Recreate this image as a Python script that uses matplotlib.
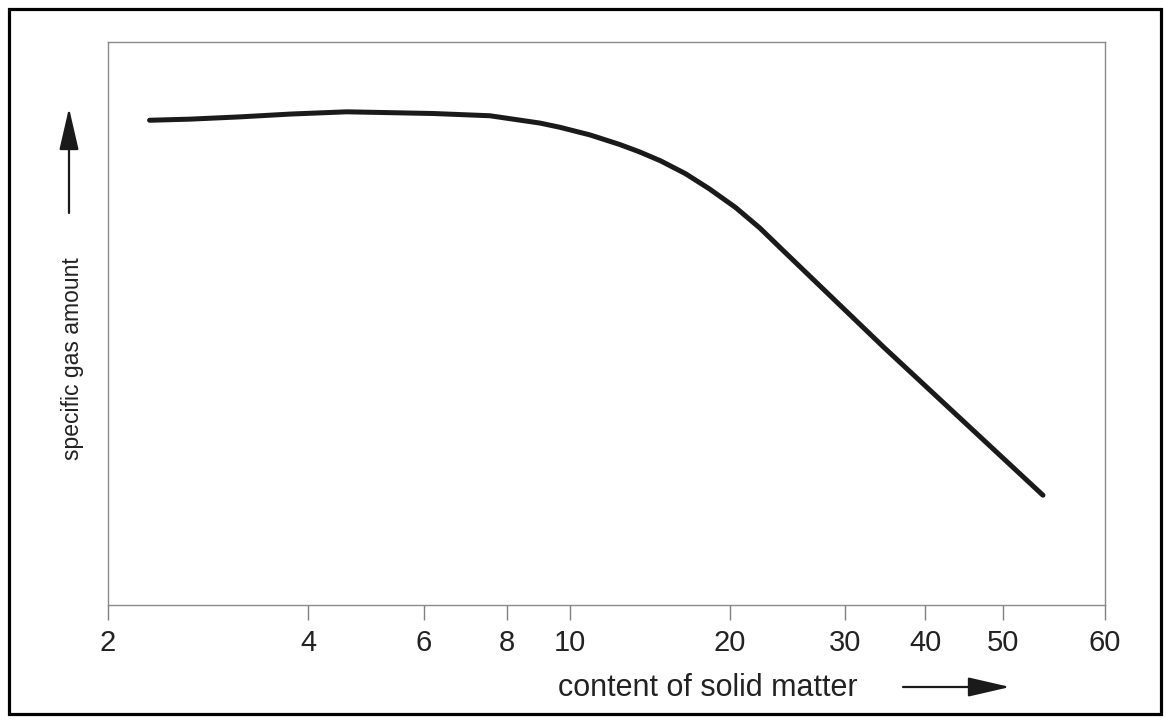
import numpy as np
import matplotlib
matplotlib.use("Agg")
import matplotlib.pyplot as plt
from matplotlib.patches import Rectangle

# ---- data ----
solids = [2.31, 2.66, 3.16, 3.76, 4.58, 6.19, 7.54, 8.99, 9.65, 10.9, 12.4,
          13.5, 14.8, 16.5, 18.3, 20.4, 22.2, 24.1, 34.4, 53.7]
gas_amount = [86.1, 86.3, 86.7, 87.2, 87.6, 87.3, 86.9, 85.6, 84.85, 83.5, 81.8,
              80.5, 78.9, 76.6, 73.9, 70.6, 67.0, 63.0, 45.9, 19.5]
tick_values = [2, 4, 6, 8, 10, 20, 30, 40, 50, 60]
tick_labels = ["2", "4", "6", "8", "10", "20", "30", "40", "50", "60"]
x_label = "content of solid matter"
y_label = "specific gas amount"

# the reference's (non-uniform) axis spacing of the tick values
axis_spacing = [108, 308, 424, 507, 570, 730, 845, 925, 1003, 1105]

plt.rcParams['font.family'] = ['Liberation Sans', 'DejaVu Sans']

W, H = 1169, 722
fig = plt.figure(figsize=(W / 100, H / 100), dpi=100)
ax = fig.add_axes([108 / W, (H - 605) / H, (1105 - 108) / W, (605 - 42) / H])

lv = np.log(tick_values)


def fwd(x):
    x = np.asarray(x, dtype=float)
    return np.interp(np.log(np.clip(x, 1e-9, None)), lv, axis_spacing)


def inv(p):
    return np.exp(np.interp(p, axis_spacing, lv))


ax.set_xscale('function', functions=(fwd, inv))
ax.set_xlim(2, 60)
ax.set_ylim(0, 100)

ax.plot(solids, gas_amount, color='#1a1a1a', lw=3.6, solid_capstyle='round',
        solid_joinstyle='round')

ax.set_xticks(tick_values)
ax.set_xticklabels(tick_labels)
ax.xaxis.set_minor_locator(matplotlib.ticker.NullLocator())
ax.set_yticks([])
ax.tick_params(axis='x', direction='out', length=11, width=1.0, color='#808080',
               pad=6, labelsize=21, labelcolor='#222222')
for s in ax.spines.values():
    s.set_color('#8a8a8a')
    s.set_linewidth(1.0)

# axis labels
fig.text(708 / W, (H - 688) / H, x_label, ha='center', va='center',
         fontsize=22, color='#222222')
fig.text(72 / W, (H - 359) / H, y_label, ha='center', va='center',
         rotation=90, fontsize=16.5, color='#222222')

# arrows
arrow_props = dict(arrowstyle='-|>,head_length=2.6,head_width=0.6',
                   mutation_scale=10, lw=1.6, color='#1a1a1a',
                   shrinkA=0, shrinkB=0)
ax.annotate('', xy=(69, H - 108), xytext=(69, H - 213),
            xycoords='figure pixels', textcoords='figure pixels',
            arrowprops=arrow_props, annotation_clip=False)
ax.annotate('', xy=(1010, H - 687), xytext=(903, H - 687),
            xycoords='figure pixels', textcoords='figure pixels',
            arrowprops=arrow_props, annotation_clip=False)

# outer frame
fig.patches.append(Rectangle((8.5 / W, 8.5 / H), (W - 17) / W, (H - 17) / H,
                             transform=fig.transFigure, fill=False,
                             edgecolor='black', linewidth=2.3))

fig.savefig('out.png', dpi=100)
